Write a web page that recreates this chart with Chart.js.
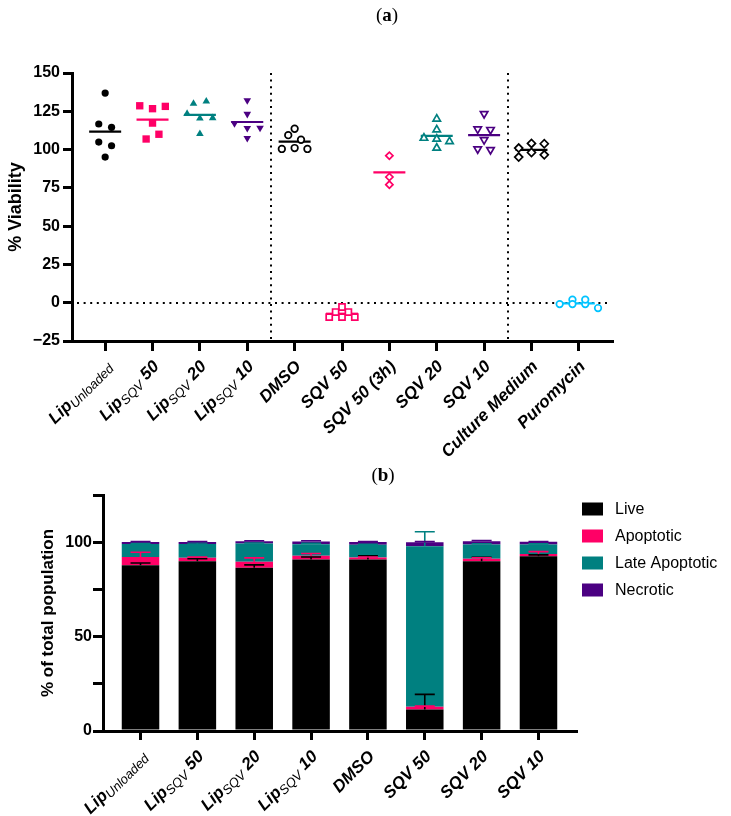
<!DOCTYPE html>
<html>
<head>
<meta charset="utf-8">
<script src="https://cdn.jsdelivr.net/npm/chart.js@4.4.1/dist/chart.umd.min.js"></script>
<style>
body { margin: 0; background: #fff; width: 731px; height: 816px; position: relative; overflow: hidden; }
canvas { position: absolute; left: 0; }
#ca { top: 0; }
#cb { top: 470px; }
.tag { position: absolute; z-index: 2; font-family: "Liberation Serif", "DejaVu Serif", serif; font-size: 19px; transform: translateX(-50%); }
</style>
</head>
<body>
<canvas id="ca" width="731" height="470"></canvas>
<canvas id="cb" width="731" height="346"></canvas>
<div class="tag" style="left:387px;top:4px">(<b>a</b>)</div>
<div class="tag" style="left:383px;top:464px">(<b>b</b>)</div>
<script>
// ---- (a) % viability, one array per group ----
var viabilityLabels = ['Lip_{Unloaded}', 'Lip_{SQV} 50', 'Lip_{SQV} 20', 'Lip_{SQV} 10', 'DMSO',
  'SQV 50', 'SQV 50 (3h)', 'SQV 20', 'SQV 10', 'Culture Medium', 'Puromycin'];
var lipUnloaded   = [136.9, 116.7, 114.5, 104.9, 102.5, 95.1];
var lipSqv50      = [128.6, 126.7, 128.2, 117.3, 106.9, 110.0];
var lipSqv20      = [130.0, 131.5, 123.4, 120.4, 120.6, 110.3];
var lipSqv10      = [132.1, 123.2, 117.1, 114.0, 114.2, 107.5];
var dmso          = [109.4, 113.6, 106.4, 100.4, 101.0, 100.4];
var sqv50         = [-2.8, -6.1, -6.1, -9.4, -9.4, -9.4];
var sqv50_3h      = [96.0, 82.1, 77.1];
var sqv20         = [120.0, 113.0, 107.5, 106.9, 105.3, 101.0];
var sqv10         = [123.4, 113.4, 113.0, 106.4, 100.4, 99.9];
var cultureMedium = [101.0, 104.0, 103.8, 95.1, 98.1, 96.6];
var puromycin     = [-0.9, 2.0, -0.9, -0.9, 2.0, -3.5];
var viabilityTicks = [-25, 0, 25, 50, 75, 100, 125, 150];
var groupBreaks = [3.5, 8.5];

// ---- (b) flow cytometry, stacked % of population ----
var flowLabels = ['Lip_{Unloaded}', 'Lip_{SQV} 50', 'Lip_{SQV} 20', 'Lip_{SQV} 10', 'DMSO', 'SQV 50', 'SQV 20', 'SQV 10'];
var live        = [87.8, 89.9, 86.5, 90.8, 90.8, 11.4, 89.9, 92.6];
var liveSd      = [1.2, 1.3, 1.5, 1.4, 2.0, 8.0, 2.1, 0.7];
var apoptotic   = [4.4, 1.8, 3.2, 2.0, 1.1, 1.4, 1.4, 1.2];
var apoptoticSd = [2.5, 0.4, 2.0, 1.2, 0.3, 0.4, 0.5, 1.2];
var lateApop    = [6.9, 7.4, 9.6, 6.1, 6.7, 85.1, 7.5, 5.0];
var lateApopSd  = [0.3, 0.5, 0.3, 0.5, 0.3, 7.6, 0.4, 0.3];
var necrotic    = [1.0, 1.0, 1.2, 1.5, 1.5, 2.1, 1.7, 1.4];
var necroticSd  = [0.2, 0.2, 0.3, 0.4, 0.2, 0.3, 0.4, 0.2];
var populationTicks = [0, 25, 50, 75, 100, 125];

var BLACK = '#000000', PINK = '#ff0066', TEAL = '#008080', PURPLE = '#4b0082', CYAN = '#00c3ff';
var FAMILY = "'Liberation Sans', Arial, sans-serif";
var MAIN_FONT = "italic bold 17px " + FAMILY;
var SUB_FONT = "italic 13px " + FAMILY;

function mean(a) {
  return a.reduce(function (s, v) { return s + v; }, 0) / a.length;
}

// group close values into rows and spread each row symmetrically, like a dot plot
function swarm(values, thr, step) {
  var idx = values.map(function (v, i) { return i; }).sort(function (a, b) { return values[a] - values[b]; });
  var off = values.map(function () { return 0; });
  var k = 0;
  while (k < idx.length) {
    var start = values[idx[k]];
    var bin = [idx[k]];
    k++;
    while (k < idx.length && values[idx[k]] - start <= thr) { bin.push(idx[k]); k++; }
    bin.sort(function (a, b) { return a - b; });
    bin.forEach(function (p, j) { off[p] = (j - (bin.length - 1) / 2) * step; });
  }
  return off;
}

function drawRich(ctx, text, px, py) {
  var parts = [], re = /_\{([^}]*)\}/g, last = 0, m;
  while ((m = re.exec(text))) {
    if (m.index > last) parts.push({ t: text.slice(last, m.index), sub: false });
    parts.push({ t: m[1], sub: true });
    last = re.lastIndex;
  }
  if (last < text.length) parts.push({ t: text.slice(last), sub: false });
  ctx.save();
  ctx.translate(px, py);
  ctx.rotate(-Math.PI / 4);
  ctx.textBaseline = 'middle';
  ctx.textAlign = 'left';
  ctx.fillStyle = '#000';
  var w = 0;
  parts.forEach(function (p) { ctx.font = p.sub ? SUB_FONT : MAIN_FONT; p.w = ctx.measureText(p.t).width; w += p.w; });
  var cx = -w;
  parts.forEach(function (p) {
    ctx.font = p.sub ? SUB_FONT : MAIN_FONT;
    ctx.fillText(p.t, cx, p.sub ? 4 : 0);
    cx += p.w;
  });
  ctx.restore();
}

function labelPlugin(labels) {
  return {
    id: 'xlabels',
    afterDraw: function (chart) {
      var x = chart.scales.x, base = chart.chartArea.bottom;
      labels.forEach(function (t, i) { drawRich(chart.ctx, t, x.getPixelForValue(i) + 4, base + 23); });
    }
  };
}

function axisOpts() {
  return {
    offset: false,
    grid: { offset: false, drawOnChartArea: false, drawTicks: true, tickLength: 9, tickWidth: 3, lineWidth: 3, tickColor: '#000', color: '#000' },
    border: { display: true, color: '#000', width: 3 }
  };
}

// ---------- chart (a) ----------
var series = [lipUnloaded, lipSqv50, lipSqv20, lipSqv10, dmso, sqv50, sqv50_3h, sqv20, sqv10, cultureMedium, puromycin];
var groupStyle = [
  { c: BLACK, s: 'circle', r: 3.6, open: false },
  { c: PINK, s: 'rect', r: 5.2, open: false },
  { c: TEAL, s: 'triangle', r: 4.4, open: false },
  { c: PURPLE, s: 'triangle', r: 4.4, open: false, rot: 180 },
  { c: BLACK, s: 'circle', r: 3.3, open: true },
  { c: PINK, s: 'rect', r: 4.3, open: true },
  { c: PINK, s: 'rectRot', r: 3.6, open: true },
  { c: TEAL, s: 'triangle', r: 4.3, open: true },
  { c: PURPLE, s: 'triangle', r: 4.3, open: true, rot: 180 },
  { c: BLACK, s: 'rectRot', r: 4.0, open: true },
  { c: CYAN, s: 'circle', r: 3.3, open: true }
];

var datasetsA = series.map(function (vals, i) {
  var st = groupStyle[i];
  var off = swarm(vals, 3.2, 0.27);
  return {
    data: vals.map(function (v, k) { return { x: i + off[k], y: v }; }),
    pointStyle: st.s,
    pointRadius: st.r,
    pointRotation: st.rot || 0,
    pointBackgroundColor: st.open ? '#fff' : st.c,
    pointBorderColor: st.c,
    pointBorderWidth: st.open ? 1.7 : 0,
    order: 0
  };
});
datasetsA.push({
  data: series.map(function (v, i) { return { x: i, y: mean(v) }; }),
  pointStyle: 'line',
  pointRadius: 16,
  pointBorderWidth: 2.2,
  pointBorderColor: groupStyle.map(function (s) { return s.c; }),
  order: 1
});

var dotPlugin = {
  id: 'dots',
  beforeDatasetsDraw: function (chart) {
    var ctx = chart.ctx, a = chart.chartArea, x = chart.scales.x, y = chart.scales.y;
    ctx.save();
    ctx.strokeStyle = '#000';
    ctx.lineWidth = 2;
    ctx.setLineDash([2, 4.6]);
    var y0 = Math.round(y.getPixelForValue(0));
    ctx.beginPath(); ctx.moveTo(a.left + 5, y0); ctx.lineTo(a.right - 4, y0); ctx.stroke();
    groupBreaks.forEach(function (b) {
      var px = Math.round(x.getPixelForValue(b));
      ctx.beginPath(); ctx.moveTo(px, a.top); ctx.lineTo(px, a.bottom); ctx.stroke();
    });
    ctx.restore();
  }
};

var xA = axisOpts(), yA = axisOpts();
xA.grid.tickLength = 10;
new Chart(document.getElementById('ca'), {
  type: 'scatter',
  data: { datasets: datasetsA },
  options: {
    responsive: false, animation: false, events: [],
    layout: { padding: { top: 73, right: 119, left: 0, bottom: 0 } },
    plugins: { legend: { display: false }, tooltip: { enabled: false } },
    scales: {
      x: Object.assign(xA, {
        type: 'linear', min: -0.7, max: 10.7,
        afterBuildTicks: function (s) { s.ticks = viabilityLabels.map(function (l, i) { return { value: i }; }); },
        afterFit: function (s) { s.height = 129; },
        ticks: { display: false }
      }),
      y: Object.assign(yA, {
        min: -25, max: 150,
        afterBuildTicks: function (s) { s.ticks = viabilityTicks.map(function (v) { return { value: v }; }); },
        afterFit: function (s) { s.width = 72; },
        ticks: {
          color: '#000', padding: 3, font: { family: FAMILY, size: 16, weight: 'bold' },
          callback: function (v) { return v < 0 ? '\u2212' + Math.abs(v) : v; }
        },
        title: { display: true, text: '% Viability', color: '#000', padding: { top: 5, bottom: 0 }, font: { family: FAMILY, size: 18, weight: 'bold' } }
      })
    }
  },
  plugins: [dotPlugin, labelPlugin(viabilityLabels)]
});

// ---------- chart (b) ----------
var flowSeries = [
  { label: 'Live', data: live, sd: liveSd, color: BLACK },
  { label: 'Apoptotic', data: apoptotic, sd: apoptoticSd, color: PINK },
  { label: 'Late Apoptotic', data: lateApop, sd: lateApopSd, color: TEAL },
  { label: 'Necrotic', data: necrotic, sd: necroticSd, color: PURPLE }
];

var errorPlugin = {
  id: 'errors',
  afterDatasetsDraw: function (chart) {
    var ctx = chart.ctx, x = chart.scales.x, y = chart.scales.y;
    ctx.save();
    ctx.lineWidth = 1.6;
    flowSeries.forEach(function (s, k) {
      ctx.strokeStyle = s.color;
      s.data.forEach(function (v, i) {
        var top = 0;
        for (var j = 0; j <= k; j++) top += flowSeries[j].data[i];
        var px = x.getPixelForValue(i), y1 = y.getPixelForValue(top), y2 = y.getPixelForValue(top + s.sd[i]);
        ctx.beginPath();
        ctx.moveTo(px, y1); ctx.lineTo(px, y2);
        ctx.moveTo(px - 10, y2); ctx.lineTo(px + 10, y2);
        ctx.stroke();
      });
    });
    ctx.restore();
  }
};

var legendPlugin = {
  id: 'sideLegend',
  afterDraw: function (chart) {
    var ctx = chart.ctx, a = chart.chartArea;
    ctx.save();
    ctx.font = '16px ' + FAMILY;
    ctx.textBaseline = 'middle';
    ctx.textAlign = 'left';
    flowSeries.forEach(function (s, k) {
      var cy = a.top + 14 + k * 27;
      ctx.fillStyle = s.color;
      ctx.fillRect(a.right + 6, cy - 6.5, 21, 13);
      ctx.fillStyle = '#000';
      ctx.fillText(s.label, a.right + 39, cy + 1);
    });
    ctx.restore();
  }
};

var xB = axisOpts(), yB = axisOpts();
yB.grid.tickLength = 10;
new Chart(document.getElementById('cb'), {
  type: 'bar',
  data: {
    datasets: flowSeries.map(function (s) {
      return {
        label: s.label,
        data: s.data.map(function (v, i) { return { x: i, y: v }; }),
        backgroundColor: s.color,
        borderWidth: 0,
        barPercentage: 0.66,
        categoryPercentage: 1
      };
    })
  },
  options: {
    responsive: false, animation: false, events: [],
    layout: { padding: { top: 25, right: 155, left: 0, bottom: 0 } },
    plugins: { legend: { display: false }, tooltip: { enabled: false } },
    scales: {
      x: Object.assign(xB, {
        type: 'linear', min: -0.66, max: 7.66, stacked: true,
        afterBuildTicks: function (s) { s.ticks = flowLabels.map(function (l, i) { return { value: i }; }); },
        afterFit: function (s) { s.height = 85; },
        ticks: { display: false }
      }),
      y: Object.assign(yB, {
        min: 0, max: 125, stacked: true,
        afterBuildTicks: function (s) { s.ticks = populationTicks.map(function (v) { return { value: v }; }); },
        afterFit: function (s) { s.width = 103; },
        ticks: {
          color: '#000', padding: 1, font: { family: FAMILY, size: 16, weight: 'bold' },
          callback: function (v) { return v % 50 === 0 ? v : ''; }
        },
        title: { display: true, text: '% of total population', color: '#000', padding: { top: 38, bottom: 0 }, font: { family: FAMILY, size: 17, weight: 'bold' } }
      })
    }
  },
  plugins: [errorPlugin, legendPlugin, labelPlugin(flowLabels)]
});
</script>
</body>
</html>
